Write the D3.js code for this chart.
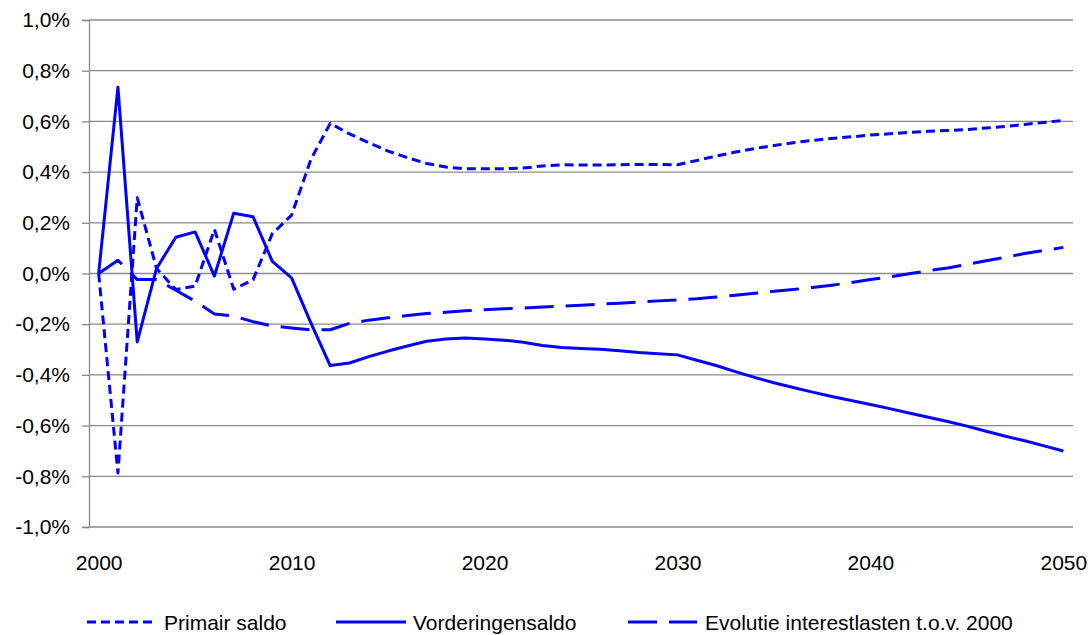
<!DOCTYPE html>
<html>
<head>
<meta charset="utf-8">
<script src="https://cdn.jsdelivr.net/npm/d3@7"></script>
<style>
  html, body { margin: 0; padding: 0; background: #fff; }
  svg { display: block; font-family: "Liberation Sans", Arial, sans-serif; }
</style>
</head>
<body>
<svg id="chart" width="1088" height="635"></svg>
<script>
// ---- data ----
const years = d3.range(2000, 2051);
const primairSaldo = [
  0, -0.787, 0.299, 0.02, -0.063, -0.05, 0.174, -0.062, -0.025, 0.157,
  0.23, 0.45, 0.592, 0.551, 0.516, 0.483, 0.457, 0.434, 0.42, 0.413,
  0.413, 0.413, 0.416, 0.424, 0.429, 0.428, 0.428, 0.429, 0.43, 0.43,
  0.429, 0.446, 0.463, 0.479, 0.493, 0.505, 0.516, 0.525, 0.533, 0.539,
  0.546, 0.551, 0.557, 0.561, 0.564, 0.568, 0.574, 0.58, 0.588, 0.596,
  0.604
];
const vorderingensaldo = [
  0, 0.735, -0.27, 0.02, 0.143, 0.164, -0.01, 0.238, 0.224, 0.048,
  -0.017, -0.195, -0.363, -0.353, -0.328, -0.306, -0.286, -0.267, -0.258, -0.254,
  -0.258, -0.263, -0.271, -0.284, -0.292, -0.296, -0.299, -0.305, -0.312, -0.317,
  -0.321, -0.342, -0.363, -0.387, -0.41, -0.431, -0.45, -0.468, -0.485, -0.501,
  -0.517, -0.533, -0.55, -0.567, -0.584, -0.602, -0.622, -0.642, -0.66, -0.68,
  -0.7
];
const evolutieInterest = [
  0, 0.052, -0.024, -0.024, -0.066, -0.109, -0.16, -0.168, -0.19, -0.207,
  -0.215, -0.222, -0.222, -0.197, -0.184, -0.175, -0.166, -0.158, -0.153, -0.147,
  -0.143, -0.139, -0.136, -0.132, -0.129, -0.125, -0.121, -0.117, -0.113, -0.108,
  -0.104, -0.1, -0.093, -0.086, -0.078, -0.07, -0.063, -0.055, -0.046, -0.036,
  -0.024, -0.013, -0.001, 0.011, 0.022, 0.036, 0.05, 0.064, 0.079, 0.091,
  0.103
];
const seriesNames = ["Primair saldo", "Vorderingensaldo", "Evolutie interestlasten t.o.v. 2000"];
const yTickValues = [-1.0, -0.8, -0.6, -0.4, -0.2, 0.0, 0.2, 0.4, 0.6, 0.8, 1.0];
const xTickLabels = [2000, 2010, 2020, 2030, 2040, 2050];

// ---- setup ----
const svg = d3.select("#chart");
const plotL = 89, plotR = 1073, plotT = 20, plotB = 527;
const blue = "#0000ff", grid = "#8a8a8a";

const x = d3.scalePoint().domain(years).range([plotL, plotR]).padding(0.5);
const y = d3.scaleLinear().domain([-1, 1]).range([plotB, plotT]);

const nl = d3.formatLocale({decimal: ",", thousands: ".", grouping: [3], currency: ["€", ""], minus: "-"});
const fmtPct = v => nl.format(".1f")(v) + "%";

// gridlines
svg.append("g").selectAll("line").data(yTickValues).join("line")
  .attr("x1", plotL).attr("x2", plotR)
  .attr("y1", d => y(d)).attr("y2", d => y(d))
  .attr("stroke", grid).attr("stroke-width", 1.3);

// y axis
const yAxis = d3.axisLeft(y).tickValues(yTickValues).tickFormat(fmtPct).tickSize(7).tickPadding(12);
const gy = svg.append("g").attr("transform", `translate(${plotL},0)`).call(yAxis);
gy.select(".domain").attr("stroke", grid).attr("stroke-width", 1.3);
gy.selectAll(".tick line").attr("stroke", grid).attr("stroke-width", 1.3);
gy.selectAll(".tick text").attr("font-size", 21).attr("fill", "#000")
  .attr("font-family", "'Liberation Sans', Arial, sans-serif");

// x axis labels
const xAxis = d3.axisBottom(x).tickValues(xTickLabels).tickSize(0).tickPadding(0);
const gx = svg.append("g").attr("transform", `translate(0,${plotB})`).call(xAxis);
gx.select(".domain").remove();
gx.selectAll(".tick text").attr("font-size", 21).attr("fill", "#000")
  .attr("dy", null).attr("y", 43)
  .attr("font-family", "'Liberation Sans', Arial, sans-serif");

// lines
const series = [
  {name: seriesNames[0], values: primairSaldo, dash: "9,5"},
  {name: seriesNames[1], values: vorderingensaldo, dash: null},
  {name: seriesNames[2], values: evolutieInterest, dash: "29,12"}
];
const line = d3.line().x((d, i) => x(years[i])).y(d => y(d));
svg.append("g").selectAll("path").data(series).join("path")
  .attr("d", d => line(d.values))
  .attr("fill", "none").attr("stroke", blue).attr("stroke-width", 3)
  .attr("stroke-linejoin", "round")
  .attr("stroke-dasharray", d => d.dash);

// legend
const legendItems = [
  {x0: 87, x1: 156, tx: 164},
  {x0: 336, x1: 406, tx: 413},
  {x0: 628, x1: 697, tx: 705}
];
const lg = svg.append("g");
const ly = 622;
series.forEach((s, i) => {
  const p = legendItems[i];
  lg.append("line").attr("x1", p.x0).attr("x2", p.x1).attr("y1", ly).attr("y2", ly)
    .attr("stroke", blue).attr("stroke-width", 3).attr("stroke-dasharray", s.dash);
  lg.append("text").attr("x", p.tx).attr("y", ly + 7.5).attr("font-size", 21)
    .attr("fill", "#000").text(s.name);
});
</script>
</body>
</html>
